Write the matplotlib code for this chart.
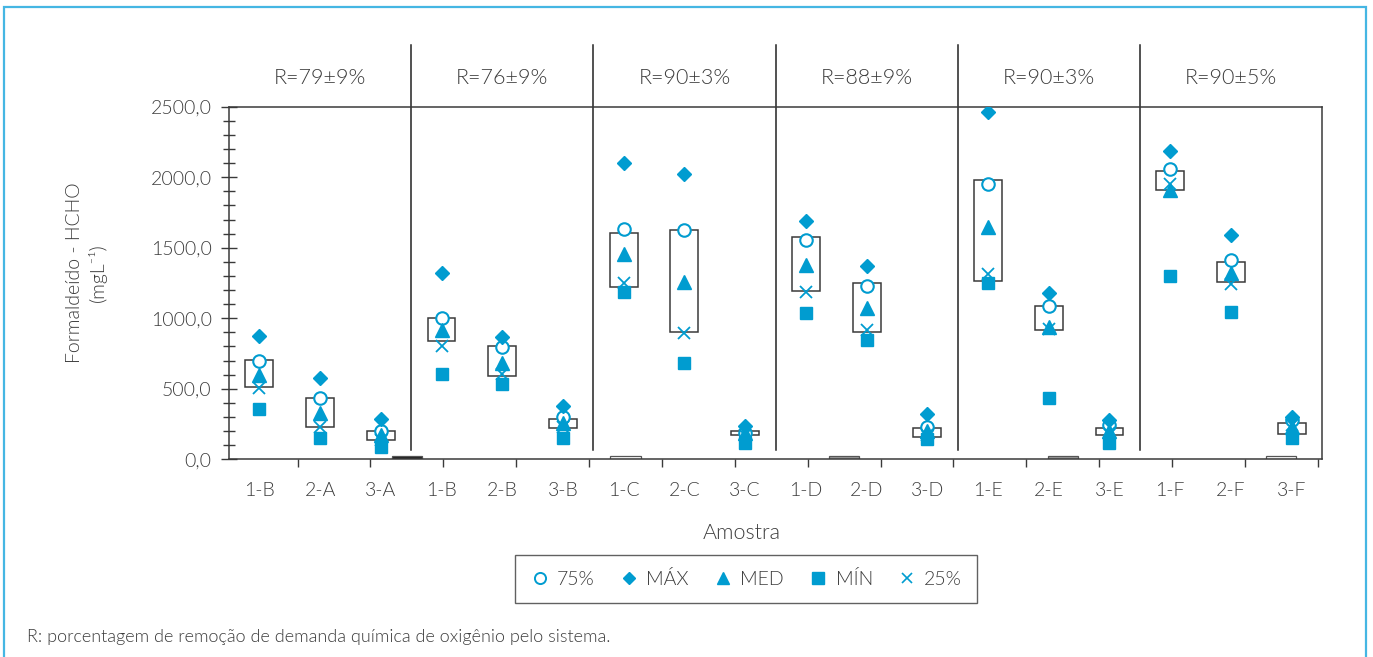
import matplotlib
matplotlib.use("Agg")
import matplotlib.pyplot as plt
from matplotlib.patches import Rectangle
from matplotlib.lines import Line2D
import numpy as np

plt.rcParams['font.family'] = ['Lato', 'DejaVu Sans']
plt.rcParams['font.weight'] = 300
plt.rcParams['axes.labelweight'] = 300

# samples and statistics (mg/L)
amostras = ['1-B', '2-A', '3-A', '1-B', '2-B', '3-B', '1-C', '2-C', '3-C',
            '1-D', '2-D', '3-D', '1-E', '2-E', '3-E', '1-F', '2-F', '3-F']
p75 = [699, 432, 201, 1004, 796, 302, 1633, 1626, 184,
       1555, 1229, 227, 1952, 1087, 243, 2056, 1413, 279]
vmax = [874, 579, 284, 1319, 869, 378, 2103, 2023, 238,
        1692, 1371, 319, 2464, 1177, 279, 2188, 1590, 298]
med = [598, 326, 172, 917, 681, 255, 1453, 1259, 184,
       1378, 1070, 203, 1649, 940, 203, 1909, 1323, 231]
vmin = [354, 153, 89, 607, 534, 153, 1186, 685, 118,
        1040, 846, 146, 1252, 437, 118, 1302, 1044, 149]
p25 = [503, 231, 137, 805, 605, 231, 1252, 893, 172,
       1188, 917, 172, 1314, 922, 184, 1952, 1243, 243]
box_lo = [513, 227, 137, 839, 588, 220, 1222, 905, 172,
          1191, 900, 160, 1266, 917, 172, 1907, 1255, 179]
box_hi = [704, 432, 201, 1004, 801, 288, 1604, 1624, 203,
          1574, 1248, 220, 1978, 1087, 220, 2046, 1401, 260]

grupos = ['R=79±9%', 'R=76±9%', 'R=90±3%', 'R=88±9%', 'R=90±3%', 'R=90±5%']

# small leftover bars of the secondary series (slots 2,5,8,11,14 of 15)
extra_slots = [2, 5, 8, 11, 14]
extra_h = [20, 20, 20, 20, 20]
extra_fc = ['#222222', 'white', '#9a9a9a', '#9a9a9a', 'white']

blue = '#009CD0'
dark = '#3a3a3a'
txt = '#3c3c3c'
fs = 14

fig = plt.figure(figsize=(13.73, 6.57), dpi=100)
ax = fig.add_axes([229/1373, 1-459.3/657, 1093/1373, 352.6/657])

x = np.arange(len(amostras)) + 0.5

# boxes
for xi, lo, hi in zip(x, box_lo, box_hi):
    ax.add_patch(Rectangle((xi-0.23, lo), 0.46, hi-lo, fill=False,
                           edgecolor=dark, lw=1.1, zorder=2))

# secondary bars
sec_w = 18/15
for s, h, fc in zip(extra_slots, extra_h, extra_fc):
    ax.bar((s+0.5)*sec_w - 0.07, h, width=0.5, bottom=0, color=fc,
           edgecolor='#555555', lw=0.9, zorder=2)

ax.plot(x, p75, 'o', ms=9, mfc='white', mec=blue, mew=1.5, ls='none', zorder=3)
ax.plot(x, vmax, 'D', ms=7, color=blue, ls='none', zorder=3)
ax.plot(x, med, '^', ms=10, color=blue, ls='none', zorder=3)
ax.plot(x, vmin, 's', ms=9, color=blue, ls='none', zorder=3)
ax.plot(x, p25, 'x', ms=8, color=blue, mew=1.3, ls='none', zorder=4)

# group separators and titles
for sep in [3, 6, 9, 12, 15]:
    ax.plot([sep, sep], [66, 2937], color='#222222', lw=1.1, clip_on=False, zorder=1)
for i, g in enumerate(grupos):
    ax.text(3*i + 1.5, 2703, g, ha='center', va='center', fontsize=15.5,
            color=txt, clip_on=False)

ax.set_xlim(0, 18)
ax.set_ylim(0, 2500)

ax.set_yticks(np.arange(0, 2501, 500))
ax.set_yticklabels([f'{v:.1f}'.replace('.', ',') for v in np.arange(0, 2501, 500)])
ax.set_yticks(np.arange(0, 2501, 100), minor=True)
ax.tick_params(axis='y', which='major', direction='inout', length=11, width=1,
               color=dark, labelsize=fs, labelcolor=txt, pad=7)
ax.tick_params(axis='y', which='minor', direction='inout', length=9, width=1, color=dark)

ax.set_xticks([k*sec_w - 0.07 for k in range(1, 16)])
ax.set_xticklabels([])
ax.set_xticks(x, amostras, minor=True)
ax.tick_params(axis='x', which='major', direction='out', length=6, width=1, color=dark)
ax.tick_params(axis='x', which='minor', length=0, labelsize=fs, labelcolor=txt, pad=16)

for sp in ax.spines.values():
    sp.set_color(dark)
    sp.set_linewidth(1.1)

ax.set_ylabel('Formaldeído - HCHO\n(mgL⁻¹)', fontsize=fs, color=txt, linespacing=1.3)
ax.yaxis.set_label_coords(-0.112, 0.53)

fig.text(742/1373, 1-533/657, 'Amostra', ha='center', va='center', fontsize=15.5, color=txt)

handles = [
    Line2D([], [], marker='o', ms=8, mfc='white', mec=blue, mew=1.4, ls='none'),
    Line2D([], [], marker='D', ms=6, color=blue, ls='none'),
    Line2D([], [], marker='^', ms=9, color=blue, ls='none'),
    Line2D([], [], marker='s', ms=8, color=blue, ls='none'),
    Line2D([], [], marker='x', ms=7, color=blue, mew=1.2, ls='none'),
]
leg = fig.legend(handles, ['75%', 'MÁX', 'MED', 'MÍN', '25%'], ncol=5,
                 loc='center', bbox_to_anchor=(746/1373, 1-579/657),
                 fontsize=fs, frameon=True, fancybox=False, edgecolor=dark,
                 handletextpad=0.4, columnspacing=1.25, borderpad=0.75,
                 handlelength=1.0)
for t in leg.get_texts():
    t.set_color(txt)
leg.get_frame().set_linewidth(1.0)

fig.text(27/1373, 1-637/657,
         'R: porcentagem de remoção de demanda química de oxigênio pelo sistema.',
         ha='left', va='center', fontsize=13, color=txt)

fig.patches.append(Rectangle((4/1373, -0.1), 1362/1373, 1.1 - 7/657,
                             transform=fig.transFigure, fill=False,
                             edgecolor='#45B6E3', lw=1.6))

fig.savefig('out.png', dpi=100)
